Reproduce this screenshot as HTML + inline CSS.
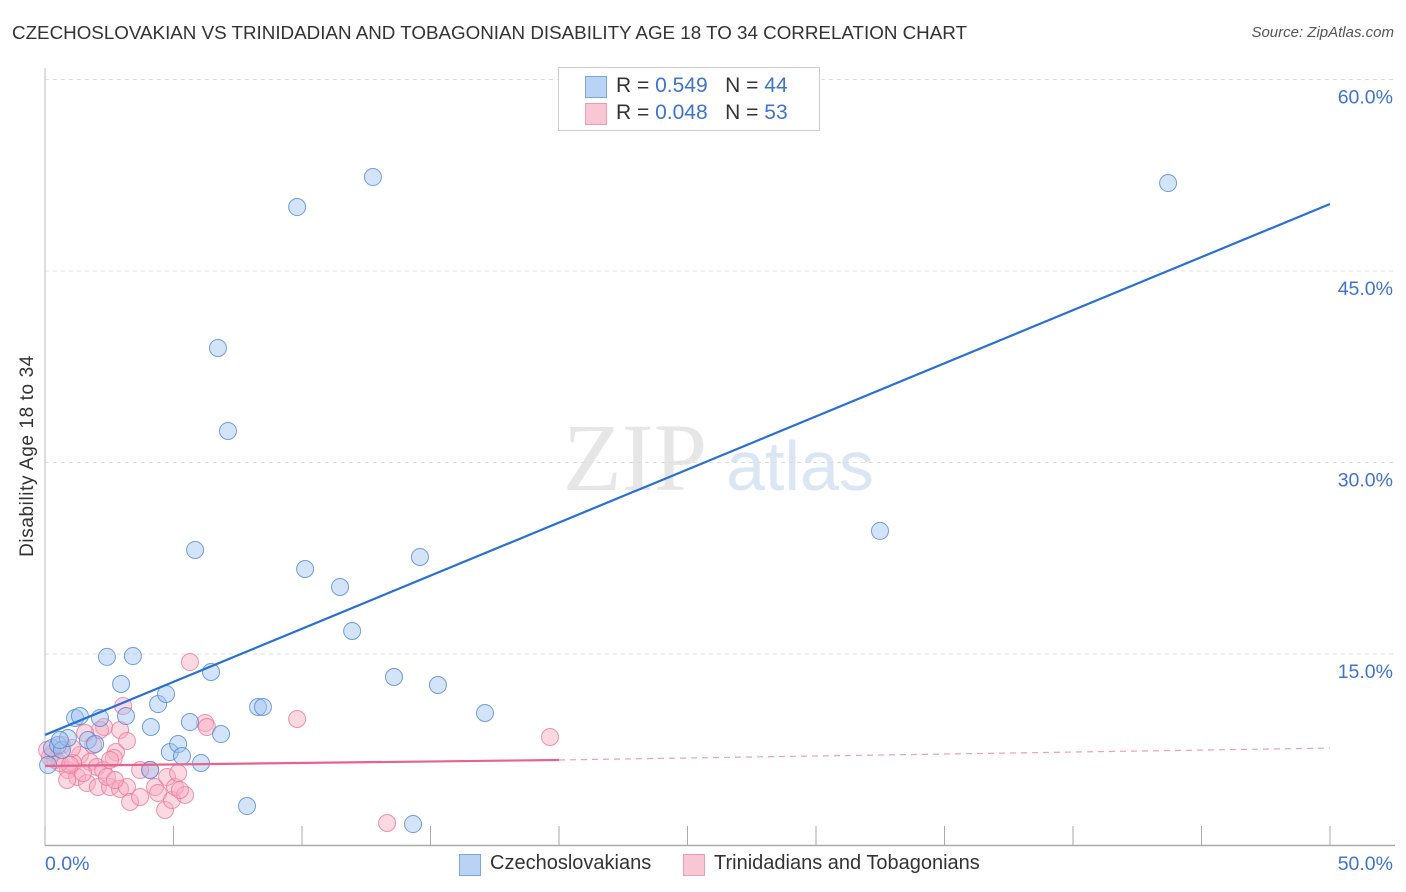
<!DOCTYPE html>
<html><head><meta charset="utf-8"><style>
body{margin:0;background:#fff;font-family:"Liberation Sans",sans-serif;}
#wrap{position:relative;width:1406px;height:892px;overflow:hidden;}
.t{position:absolute;white-space:nowrap;}
</style></head><body>
<div id="wrap">
<div class="t" style="left:12px;top:22px;font-size:18.8px;color:#333;">CZECHOSLOVAKIAN VS TRINIDADIAN AND TOBAGONIAN DISABILITY AGE 18 TO 34 CORRELATION CHART</div>
<div class="t" style="right:12px;top:24px;font-size:15px;color:#555;font-style:italic;">Source: ZipAtlas.com</div>
<div class="t" style="left:28px;top:456px;font-size:19px;letter-spacing:0.6px;color:#333;transform:translate(-50%,-50%) rotate(-90deg);">Disability Age 18 to 34</div>
<svg id="plot" width="1406" height="892" style="position:absolute;left:0;top:0;">
<text x="635" y="490" font-size="96" font-family="Liberation Serif,serif" fill="#e6e6e6" text-anchor="middle">ZIP</text>
<text x="800" y="490" font-size="70" fill="#dbe6f5" text-anchor="middle">atlas</text>
</svg>
<div style="position:absolute;left:558px;top:67px;width:260px;height:62px;border:1px solid #ccc;background:#fff;font-size:21px;">
<div class="t" style="left:26px;top:8px;width:20px;height:20px;background:#b9d3f5;border:1px solid #7aa7e0;"></div>
<div class="t" style="left:57px;top:6px;color:#333;">R = <span style="color:#3f73d0">0.549</span>&nbsp;&nbsp;&nbsp;N = <span style="color:#3f73d0">44</span></div>
<div class="t" style="left:26px;top:35px;width:20px;height:20px;background:#f9c6d4;border:1px solid #ee9bb3;"></div>
<div class="t" style="left:57px;top:33px;color:#333;">R = <span style="color:#3f73d0">0.048</span>&nbsp;&nbsp;&nbsp;N = <span style="color:#3f73d0">53</span></div>
</div>
<div>
<div class="t" style="left:459px;top:854px;width:20px;height:20px;background:#b9d3f5;border:1px solid #7aa7e0;"></div>
<div class="t" style="left:490px;top:852px;font-size:20px;color:#333;">Czechoslovakians</div>
<div class="t" style="left:683px;top:854px;width:20px;height:20px;background:#f9c6d4;border:1px solid #ee9bb3;"></div>
<div class="t" style="left:714px;top:852px;font-size:20px;color:#333;">Trinidadians and Tobagonians</div>
</div>
</div>
<script>
const yTicks=[15,30,45,60];
const yTickLabels=["15.0%","30.0%","45.0%","60.0%"];
const xTicks=[0,5,10,15,20,25,30,35,40,45,50];
const xEndLabels=["0.0%","50.0%"];
const czX=[0.12,0.27,0.51,0.66,0.89,1.17,1.36,1.67,1.95,2.14,2.41,2.96,3.15,3.42,4.12,4.40,4.71,4.86,5.18,5.33,5.64,5.84,6.07,6.46,6.73,6.85,7.12,7.86,8.29,8.48,9.81,10.12,11.48,11.95,12.76,13.58,14.32,14.59,15.29,17.12,32.49,43.70,4.09,0.58];
const czY=[6.31,7.64,7.87,7.48,8.42,9.99,10.14,8.26,7.95,9.99,14.77,12.65,10.14,14.84,9.28,11.08,11.87,7.32,7.95,7.01,9.67,23.15,6.46,13.59,38.97,8.73,32.47,3.09,10.85,10.85,50.01,21.66,20.25,16.80,52.36,13.20,1.68,22.60,12.57,10.38,24.64,51.89,5.92,8.26];
const tnX=[5.64,3.04,2.30,2.92,3.19,2.76,2.68,0.31,0.39,1.36,1.75,2.02,0.89,1.25,0.86,1.63,2.06,2.53,2.92,3.19,3.31,3.70,4.09,4.28,4.40,4.67,4.75,4.94,5.06,5.18,5.45,6.23,6.30,9.81,0.58,0.19,1.09,1.48,2.26,2.41,19.65,13.31,0.08,0.66,1.05,1.87,2.53,3.70,2.72,0.97,5.25,2.14,1.56];
const tnY=[14.37,10.93,9.28,9.05,8.19,7.32,6.85,7.25,6.70,7.09,6.54,6.15,5.91,5.37,5.13,4.89,4.58,4.58,4.43,4.58,3.41,3.80,5.91,4.58,4.11,2.78,5.37,3.56,4.58,5.68,3.96,9.60,9.28,9.91,6.46,6.93,6.46,5.68,5.91,5.37,8.50,1.76,7.48,7.87,7.64,7.87,6.70,5.91,5.13,6.31,4.35,9.05,8.81];
const czTrend=[8.66,50.25];
const tnTrend=[6.23,6.70,7.63];
const tnTrendX=[0,20,50];
const X0=45,X1=1330,Y0=845.5,YPX=191.5/15;
const sx=v=>X0+(X1-X0)*v/50, sy=v=>Y0-v*YPX;
const svg=document.getElementById('plot'),NS='http://www.w3.org/2000/svg';
function mk(t,a){const e=document.createElementNS(NS,t);for(const k in a)e.setAttribute(k,a[k]);svg.appendChild(e);return e;}
yTicks.forEach((v,i)=>{
 const g=mk('line',{x1:X0,x2:1395,y1:sy(v),y2:sy(v),stroke:'#ddd','stroke-dasharray':'4,4'});
 
 
 const t=mk('text',{x:1393,y:sy(v)+24,'text-anchor':'end','font-size':19.5,fill:'#3f73d0'});t.textContent=yTickLabels[i];
 
 
});
const ax=mk('line',{x1:X0,x2:1395,y1:Y0,y2:Y0,stroke:'#aaa','stroke-width':1.5});


const ay=mk('line',{x1:X0,x2:X0,y1:68,y2:Y0,stroke:'#bbb'});


xTicks.forEach(v=>{const l=mk('line',{x1:sx(v),x2:sx(v),y1:826,y2:Y0,stroke:'#aaa'});
 
 });
[[0,'start'],[50,'end']].forEach((p,i)=>{const t=mk('text',{x:i?1393:45,y:870,'text-anchor':p[1],'font-size':19.5,fill:'#3f73d0'});t.textContent=xEndLabels[i];
 
 });
tnX.forEach((v,i)=>{const c=mk('circle',{cx:sx(v),cy:sy(tnY[i]),r:8.5,fill:'rgba(246,170,192,0.45)',stroke:'rgba(236,120,155,0.8)','stroke-width':1});
 
 });
czX.forEach((v,i)=>{const c=mk('circle',{cx:sx(v),cy:sy(czY[i]),r:8.5,fill:'rgba(160,195,240,0.45)',stroke:'rgba(80,135,210,0.8)','stroke-width':1});
 
 });
const bl=mk('line',{x1:sx(0),y1:sy(czTrend[0]),x2:sx(50),y2:sy(czTrend[1]),stroke:'#2a6fd6','stroke-width':2.2});


const pl=mk('line',{x1:sx(tnTrendX[0]),y1:sy(tnTrend[0]),x2:sx(tnTrendX[1]),y2:sy(tnTrend[1]),stroke:'#e8628f','stroke-width':2.2});


const pd=mk('line',{x1:sx(tnTrendX[1]),y1:sy(tnTrend[1]),x2:sx(tnTrendX[2]),y2:sy(tnTrend[2]),stroke:'#e8a0b8','stroke-width':1.2,'stroke-dasharray':'6,5'});


</script>
</body></html>
